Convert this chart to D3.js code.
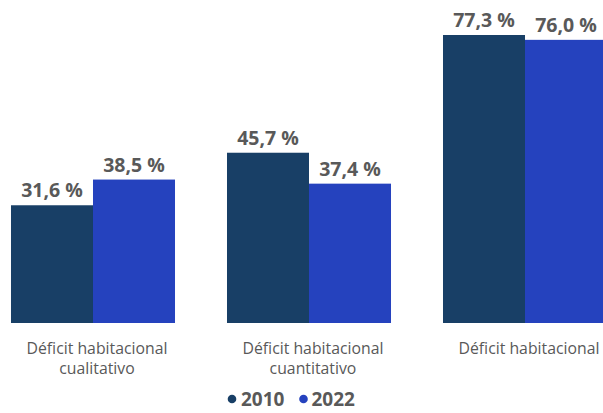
<!DOCTYPE html>
<html>
<head>
<meta charset="utf-8">
<script src="https://cdn.jsdelivr.net/npm/d3@7"></script>
<style>
html,body{margin:0;padding:0;background:#fff;}
svg{display:block;}
</style>
</head>
<body>
<svg id="chart" width="603" height="413"></svg>
<script>
const categories = [["Déficit habitacional","cualitativo"],["Déficit habitacional","cuantitativo"],["Déficit habitacional"]];
const seriesNames = ["2010","2022"];
const values2010 = [31.6, 45.7, 77.3];
const values2022 = [38.5, 37.4, 76.0];
const valueLabels2010 = ["31,6 %","45,7 %","77,3 %"];
const valueLabels2022 = ["38,5 %","37,4 %","76,0 %"];
const colors = ["#183F66", "#2542BE"];

const svg = d3.select("#chart");
const baseY = 323;
const catKeys = categories.map((c,i)=>i);
const x0 = d3.scaleBand().domain(catKeys).range([-41, 659]).paddingInner(0.2407).paddingOuter(0.2407);
const x1 = d3.scaleBand().domain(seriesNames).range([0, x0.bandwidth()]);
const y = d3.scaleLinear().domain([0, 77.3]).range([baseY, 35]);

const series = [values2010, values2022];
const labels = [valueLabels2010, valueLabels2022];
const font = "'Open Sans', sans-serif";

catKeys.forEach(i => {
  const g = svg.append("g").attr("transform", `translate(${x0(i)},0)`);
  seriesNames.forEach((s, si) => {
    const v = series[si][i];
    g.append("rect")
      .attr("x", x1(s)).attr("y", y(v))
      .attr("width", x1.bandwidth()).attr("height", baseY - y(v))
      .attr("fill", colors[si]);
    g.append("text")
      .attr("x", x1(s) + x1.bandwidth()/2)
      .attr("y", y(v) - 8)
      .attr("text-anchor", "middle")
      .attr("font-family", font).attr("font-weight", "bold").attr("font-size", "19.5px")
      .attr("fill", "#595959")
      .text(labels[si][i]);
  });
  const t = g.append("text")
    .attr("text-anchor", "middle")
    .attr("font-family", font).attr("font-size", "15.8px")
    .attr("fill", "#595959");
  categories[i].forEach((line, li) => {
    t.append("tspan").attr("x", x0.bandwidth()/2 + 4).attr("y", 354 + li*20.3).text(line);
  });
});

// legend
const legend = svg.append("g");
const legendItems = [{name: seriesNames[0], cx: 232, tx: 241}, {name: seriesNames[1], cx: 303.5, tx: 311.5}];
legendItems.forEach((d, i) => {
  legend.append("circle").attr("cx", d.cx).attr("cy", 399).attr("r", 4.3).attr("fill", colors[i]);
  legend.append("text").attr("x", d.tx).attr("y", 405.5)
    .attr("font-family", font).attr("font-weight", "bold").attr("font-size", "19px")
    .attr("fill", "#595959").text(d.name);
});
</script>
</body>
</html>
